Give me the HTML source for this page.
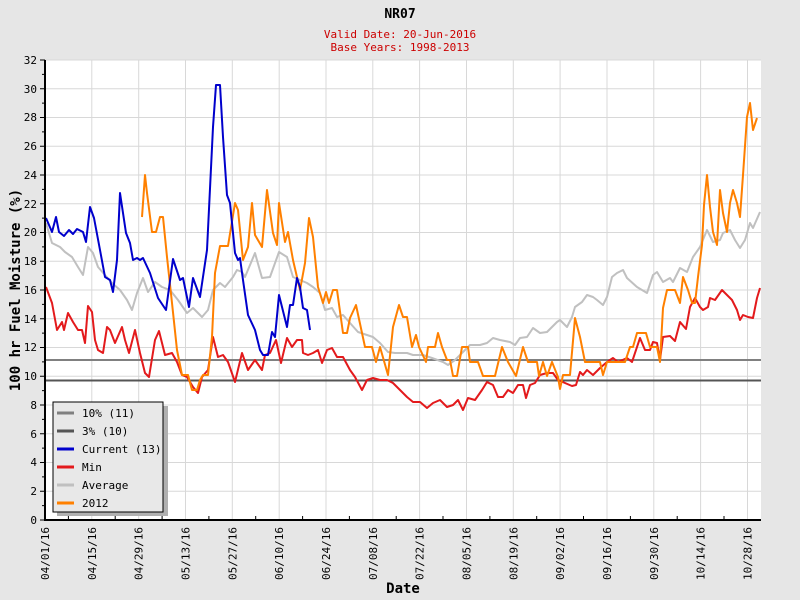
<!DOCTYPE html>
<html><head><style>
body{margin:0;background:#e6e6e6;}
svg{display:block;font-family:"DejaVu Sans Mono","Liberation Mono",monospace;}
</style></head><body>
<svg width="800" height="600" viewBox="0 0 800 600" xmlns="http://www.w3.org/2000/svg">
<rect width="800" height="600" fill="#e6e6e6"/>
<rect x="45" y="60" width="716" height="460" fill="#fff"/>
<g stroke="#d8d8d8" stroke-width="1">
<line x1="45" x2="761" y1="491.25" y2="491.25"/><line x1="45" x2="761" y1="462.5" y2="462.5"/><line x1="45" x2="761" y1="433.75" y2="433.75"/><line x1="45" x2="761" y1="405" y2="405"/><line x1="45" x2="761" y1="376.25" y2="376.25"/><line x1="45" x2="761" y1="347.5" y2="347.5"/><line x1="45" x2="761" y1="318.75" y2="318.75"/><line x1="45" x2="761" y1="290" y2="290"/><line x1="45" x2="761" y1="261.25" y2="261.25"/><line x1="45" x2="761" y1="232.5" y2="232.5"/><line x1="45" x2="761" y1="203.75" y2="203.75"/><line x1="45" x2="761" y1="175" y2="175"/><line x1="45" x2="761" y1="146.25" y2="146.25"/><line x1="45" x2="761" y1="117.5" y2="117.5"/><line x1="45" x2="761" y1="88.75" y2="88.75"/><line x1="45" x2="761" y1="60" y2="60"/>
<line x1="91.8" x2="91.8" y1="60" y2="520"/><line x1="138.7" x2="138.7" y1="60" y2="520"/><line x1="185.5" x2="185.5" y1="60" y2="520"/><line x1="232.3" x2="232.3" y1="60" y2="520"/><line x1="279.2" x2="279.2" y1="60" y2="520"/><line x1="326" x2="326" y1="60" y2="520"/><line x1="372.8" x2="372.8" y1="60" y2="520"/><line x1="419.6" x2="419.6" y1="60" y2="520"/><line x1="466.5" x2="466.5" y1="60" y2="520"/><line x1="513.3" x2="513.3" y1="60" y2="520"/><line x1="560.1" x2="560.1" y1="60" y2="520"/><line x1="607" x2="607" y1="60" y2="520"/><line x1="653.8" x2="653.8" y1="60" y2="520"/><line x1="700.6" x2="700.6" y1="60" y2="520"/><line x1="747.5" x2="747.5" y1="60" y2="520"/>
</g>
<line x1="45" x2="761" y1="360" y2="360" stroke="#808080" stroke-width="2"/>
<line x1="45" x2="761" y1="380.5" y2="380.5" stroke="#555" stroke-width="2"/>
<g fill="none" stroke-width="2" stroke-linejoin="round">
<polyline stroke="#c0c0c0" points="46,223 52,243 60,247 65,252 72,257 78,267 83,275 88,247 93,253 98,267 105,275 112,283 120,290 127,300 132,310 137,293 143,278 148,292 155,282 162,287 170,290 178,300 187,313 193,308 202,317 208,310 213,290 220,283 225,287 233,277 237,270 242,272 245,277 255,253 262,278 270,277 279,252 287,257 293,277 300,280 307,283 313,287 320,293 325,310 332,308 337,317 343,315 350,323 358,332 367,335 373,337 380,343 388,352 395,353 407,353 413,355 423,355 432,358 443,362 448,365 455,360 462,353 470,345 480,345 487,343 493,338 500,340 510,342 515,345 520,338 527,337 533,328 540,333 547,332 557,322 560,320 567,327 572,317 575,307 582,302 587,295 593,297 597,300 603,305 607,297 612,277 617,273 623,270 627,278 637,287 647,293 653,275 657,272 663,282 670,278 673,282 680,268 687,272 693,257 700,247 707,230 713,242 720,240 723,233 730,230 735,240 740,248 745,240 750,223 753,228 760,212"/>
<polyline stroke="#e31a1c" points="46,287 52,303 57,330 62,322 64,330 68,313 73,322 78,330 82,330 85,343 88,306 92,312 95,340 98,350 103,353 107,327 110,330 115,343 122,327 125,340 129,353 135,330 140,353 145,373 149,377 155,340 159,331 165,355 172,353 177,362 182,375 187,377 193,387 198,393 202,377 208,370 213,337 218,357 223,355 228,362 235,382 242,353 248,370 255,360 262,370 265,355 270,353 276,340 281,363 287,338 292,347 297,340 302,340 303,353 308,355 313,353 318,350 322,363 327,350 332,348 337,357 343,357 350,370 355,377 362,390 367,380 373,378 380,380 387,380 393,383 400,390 407,397 413,402 420,402 427,408 433,403 440,400 447,407 453,405 458,400 463,410 468,398 475,400 482,390 487,382 493,385 498,397 503,397 508,390 513,393 518,385 523,385 526,398 530,385 535,383 540,375 547,373 553,373 558,380 565,383 572,386 576,385 580,372 583,375 587,370 593,375 600,368 607,362 613,358 618,362 627,358 632,362 640,338 645,350 650,350 653,342 657,343 660,360 663,337 670,336 675,341 680,322 686,329 690,307 695,298 700,307 703,310 708,307 710,298 715,300 722,290 727,295 732,300 737,310 740,320 743,315 748,317 753,318 757,298 760,288"/>
<polyline stroke="#ff8000" points="142,217 145,175 147,193 152,232 156,232 160,217 163,217 167,257 172,303 177,350 182,375 188,375 192,390 197,390 200,380 203,375 208,375 212,337 215,273 220,246 228,246 235,203 238,210 243,260 248,247 252,203 255,235 262,247 267,190 273,233 277,245 279,203 285,242 288,232 293,260 300,290 305,263 309,218 313,237 318,287 323,303 326,292 329,303 333,290 337,290 343,333 347,333 350,318 356,305 365,347 372,347 376,362 380,347 388,375 393,327 399,305 403,317 407,317 412,347 416,335 419,347 426,362 428,347 435,347 438,333 442,347 447,360 450,360 453,376 457,376 462,347 468,347 470,362 478,362 483,376 495,376 502,347 508,362 516,376 523,347 528,362 537,362 539,376 543,362 547,376 552,362 558,377 560,389 563,375 570,375 575,318 580,337 585,362 600,362 603,375 607,362 625,362 630,347 633,347 637,333 646,333 650,347 657,347 660,362 663,308 667,290 675,290 680,303 683,277 688,290 692,303 695,303 698,277 702,245 704,205 707,175 710,207 713,232 717,245 720,190 723,213 727,232 730,203 733,190 737,203 740,217 743,175 747,117 750,103 753,130 757,118"/>
<polyline stroke="#0000cc" points="46,218 52,232 56,217 59,232 64,236 69,230 73,234 77,229 83,232 86,242 90,207 94,218 100,250 105,277 110,280 113,292 117,260 120,193 126,233 130,243 133,260 137,258 140,260 143,258 150,273 158,298 166,310 173,259 180,280 183,278 189,307 193,278 200,297 207,250 213,127 216,85 220,85 223,137 227,195 230,203 235,253 238,260 240,258 243,280 248,315 255,330 260,350 263,355 268,355 272,332 275,337 279,295 287,327 290,305 293,305 297,278 300,287 303,308 307,310 310,330"/>
</g>
<g stroke="#000" stroke-width="2"><line x1="45" y1="60" x2="45" y2="521"/><line x1="44" y1="520" x2="761" y2="520"/></g>
<g stroke="#000" stroke-width="1">
<path d="M40 520H45M40 491.25H45M40 462.5H45M40 433.75H45M40 405H45M40 376.25H45M40 347.5H45M40 318.75H45M40 290H45M40 261.25H45M40 232.5H45M40 203.75H45M40 175H45M40 146.25H45M40 117.5H45M40 88.75H45M40 60H45"/>
<path d="M42 505.6H45M42 476.9H45M42 448.1H45M42 419.4H45M42 390.6H45M42 361.9H45M42 333.1H45M42 304.4H45M42 275.6H45M42 246.9H45M42 218.1H45M42 189.4H45M42 160.6H45M42 131.9H45M42 103.1H45M42 74.4H45"/>
<path d="M68.4 516V520M115.2 516V520M162.1 516V520M208.9 516V520M255.7 516V520M302.6 516V520M349.4 516V520M396.2 516V520M443 516V520M489.9 516V520M536.7 516V520M583.5 516V520M630.4 516V520M677.2 516V520M724 516V520"/>
</g>
<g font-size="11" fill="#000" text-anchor="end">
<text x="37" y="524">0</text><text x="37" y="495">2</text><text x="37" y="466">4</text><text x="37" y="438">6</text><text x="37" y="409">8</text><text x="37" y="380">10</text><text x="37" y="351">12</text><text x="37" y="323">14</text><text x="37" y="294">16</text><text x="37" y="265">18</text><text x="37" y="236">20</text><text x="37" y="208">22</text><text x="37" y="179">24</text><text x="37" y="150">26</text><text x="37" y="121">28</text><text x="37" y="93">30</text><text x="37" y="64">32</text>
</g>
<g font-size="11" fill="#000" text-anchor="end">
<text transform="translate(49,527) rotate(-90)">04/01/16</text>
<text transform="translate(95.8,527) rotate(-90)">04/15/16</text>
<text transform="translate(142.7,527) rotate(-90)">04/29/16</text>
<text transform="translate(189.5,527) rotate(-90)">05/13/16</text>
<text transform="translate(236.3,527) rotate(-90)">05/27/16</text>
<text transform="translate(283.2,527) rotate(-90)">06/10/16</text>
<text transform="translate(330,527) rotate(-90)">06/24/16</text>
<text transform="translate(376.8,527) rotate(-90)">07/08/16</text>
<text transform="translate(423.6,527) rotate(-90)">07/22/16</text>
<text transform="translate(470.5,527) rotate(-90)">08/05/16</text>
<text transform="translate(517.3,527) rotate(-90)">08/19/16</text>
<text transform="translate(564.1,527) rotate(-90)">09/02/16</text>
<text transform="translate(611,527) rotate(-90)">09/16/16</text>
<text transform="translate(657.8,527) rotate(-90)">09/30/16</text>
<text transform="translate(704.6,527) rotate(-90)">10/14/16</text>
<text transform="translate(751.5,527) rotate(-90)">10/28/16</text>
</g>
<text x="400" y="18" font-size="13" font-weight="bold" text-anchor="middle">NR07</text>
<text x="400" y="38" font-size="11" fill="#cc0000" text-anchor="middle">Valid Date: 20-Jun-2016</text>
<text x="400" y="51" font-size="11" fill="#cc0000" text-anchor="middle">Base Years: 1998-2013</text>
<text x="403" y="593" font-size="14" font-weight="bold" text-anchor="middle">Date</text>
<text transform="translate(20,290) rotate(-90)" font-size="14" font-weight="bold" text-anchor="middle">100 hr Fuel Moisture (%)</text>
<rect x="57" y="406" width="111" height="110" fill="#b0b0b0"/>
<rect x="53" y="402" width="110" height="110" fill="#e8e8e8" stroke="#000" stroke-width="1"/>
<g stroke-width="3">
<line x1="57" x2="74" y1="413" y2="413" stroke="#808080"/>
<line x1="57" x2="74" y1="431" y2="431" stroke="#555"/>
<line x1="57" x2="74" y1="449" y2="449" stroke="#0000cc"/>
<line x1="57" x2="74" y1="467" y2="467" stroke="#e31a1c"/>
<line x1="57" x2="74" y1="485" y2="485" stroke="#c0c0c0"/>
<line x1="57" x2="74" y1="503" y2="503" stroke="#ff8000"/>
</g>
<g font-size="11" fill="#000">
<text x="82" y="417">10% (11)</text>
<text x="82" y="435">3% (10)</text>
<text x="82" y="453">Current (13)</text>
<text x="82" y="471">Min</text>
<text x="82" y="489">Average</text>
<text x="82" y="507">2012</text>
</g>
</svg>
</body></html>
